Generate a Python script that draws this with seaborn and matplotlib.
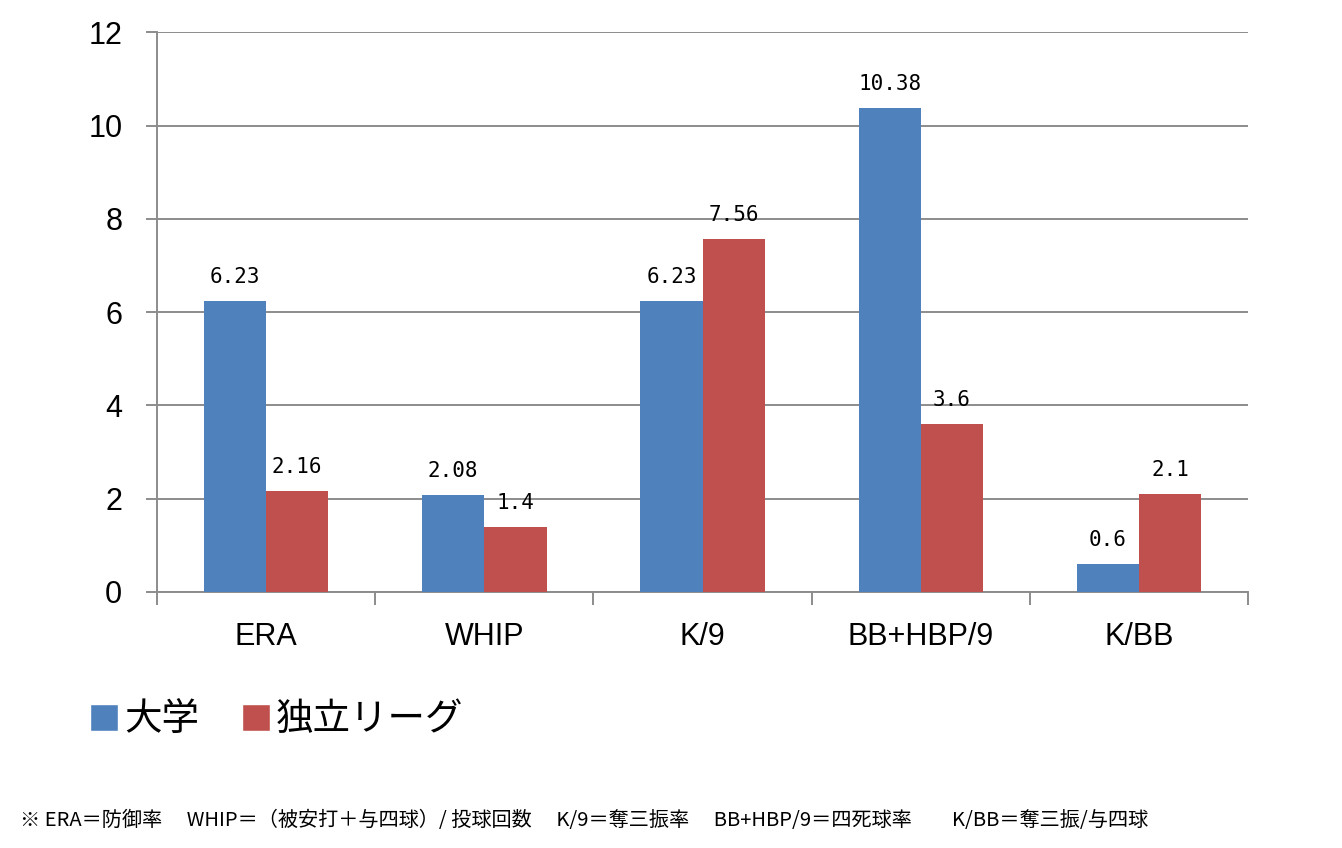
import pandas as pd
import matplotlib.pyplot as plt
import seaborn as sns
from matplotlib.patches import Patch

categories = ['ERA', 'WHIP', 'K/9', 'BB+HBP/9', 'K/BB']
univ = [6.23, 2.08, 6.23, 10.38, 0.6]
indep = [2.16, 1.4, 7.56, 3.6, 2.1]
series_names = ['大学', '独立リーグ']
y_ticks = [0, 2, 4, 6, 8, 10, 12]
note = ('※ ERA＝防御率　 WHIP＝（被安打＋与四球）/ 投球回数　 K/9＝奪三振率　 '
        'BB+HBP/9＝四死球率　　K/BB＝奪三振/与四球')

df = pd.DataFrame({
    'cat': categories * 2,
    'val': univ + indep,
    'grp': [series_names[0]] * 5 + [series_names[1]] * 5,
})

sns.set_style('white')
plt.rcParams['font.family'] = ['Noto Sans CJK JP', 'DejaVu Sans']
plt.rcParams['text.color'] = 'black'
plt.rcParams['xtick.labelcolor'] = 'black'
plt.rcParams['ytick.labelcolor'] = 'black'

fig = plt.figure(figsize=(13.42, 8.48), dpi=100)
ax = fig.add_axes([0.117, 0.302, 0.813, 0.66])

sns.barplot(data=df, x='cat', y='val', hue='grp', order=categories,
            hue_order=series_names, palette=['#4F81BD', '#C0504D'],
            width=0.57, saturation=1, linewidth=0, ax=ax, legend=False, zorder=3)

# value labels
for cont in ax.containers:
    ax.bar_label(cont, labels=[f'{v:g}' for v in cont.datavalues], padding=10,
                 fontsize=15, family=['DejaVu Sans Mono'])

ax.set_ylim(0, 12)
ax.set_yticks(y_ticks)
ax.set_xlim(-0.5, 4.5)
ax.yaxis.grid(True, color='#8c8c8c', linewidth=1.4, zorder=0)
ax.set_axisbelow(True)
for s in ['top', 'right']:
    ax.spines[s].set_visible(False)
for s in ['left', 'bottom']:
    ax.spines[s].set_color('#8c8c8c')
    ax.spines[s].set_linewidth(1.4)

ax.tick_params(axis='y', labelsize=22, length=8, color='#8c8c8c', width=1.4, pad=17,
               direction='out', left=True)
ax.tick_params(axis='x', which='major', length=0, labelsize=22, pad=22)
ax.set_xticks([i - 0.5 for i in range(6)], minor=True)
ax.tick_params(axis='x', which='minor', length=9, color='#8c8c8c', width=1.4,
               direction='out', bottom=True)
for t in ax.get_yticklabels() + ax.get_xticklabels():
    t.set_family(['Liberation Sans', 'DejaVu Sans'])
ax.set_xlabel('')
ax.set_ylabel('')

# legend
handles = [Patch(facecolor='#4F81BD'), Patch(facecolor='#C0504D')]
fig.legend(handles, series_names, loc='center left', bbox_to_anchor=(0.042, 0.151),
           ncol=2, frameon=False, fontsize=27, handlelength=0.75, handleheight=0.75,
           handletextpad=0.15, columnspacing=1.14, labelcolor='black')

fig.text(0.015, 0.033, note, fontsize=14.5, va='center', ha='left')

fig.savefig('out.png', dpi=100)
